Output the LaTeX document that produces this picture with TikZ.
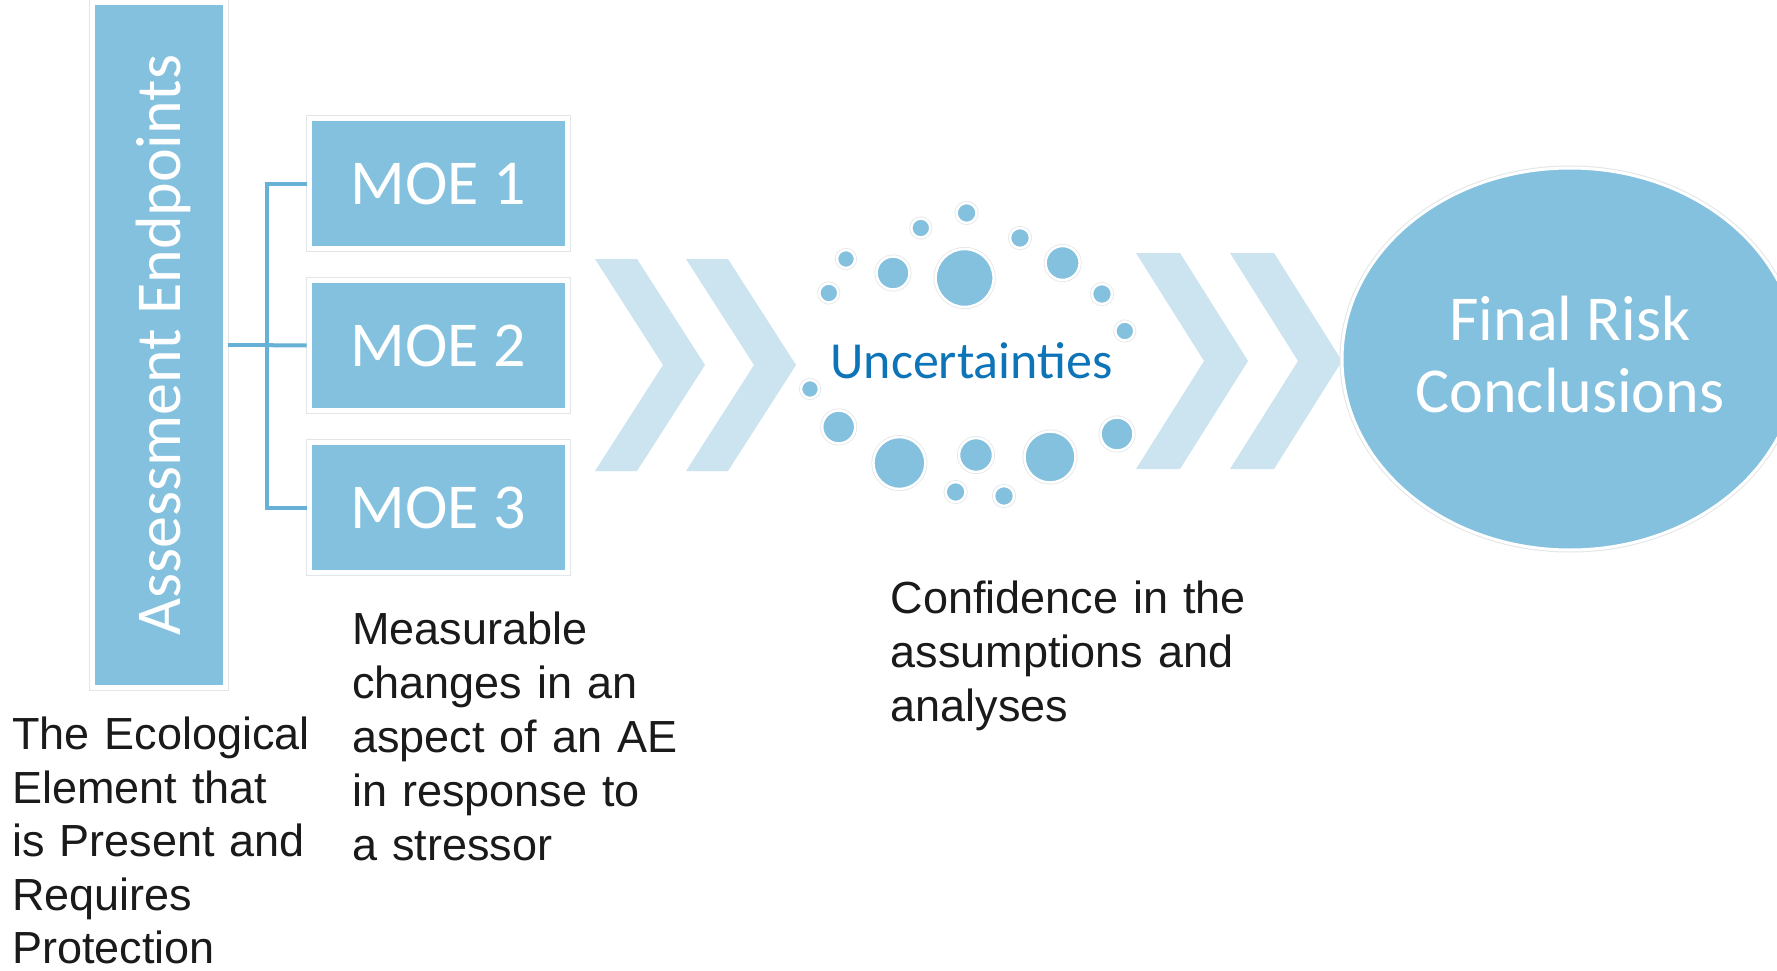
\documentclass[tikz,border=0pt]{standalone}
\usepackage{fontspec}
\setmainfont{Liberation Sans}
\newfontfamily\calib{Carlito}
\usetikzlibrary{shapes.geometric}

\definecolor{boxblue}{RGB}{132,193,222}
\definecolor{lineblue}{RGB}{104,177,214}
\definecolor{chevblue}{RGB}{203,228,240}
\definecolor{uncblue}{RGB}{14,116,184}
\definecolor{edgegray}{RGB}{226,230,232}
\definecolor{ink}{RGB}{26,26,26}

\tikzset{
  framed/.style={fill=boxblue, draw=white, line width=5pt,
    preaction={draw=edgegray, line width=7pt}},
  aebox/.style={framed, rectangle, inner sep=0pt,
    minimum width=133pt, minimum height=684.6pt},
  moebox/.style={framed, rectangle, inner sep=0pt,
    minimum width=258.3pt, minimum height=130pt},
  moelabel/.style={text=white, inner sep=0pt, anchor=base,
    font=\calib\fontsize{64}{70}\selectfont},
  finalnode/.style={ellipse, fill=boxblue, draw=white, line width=3pt,
    preaction={draw=edgegray, line width=5pt}, inner sep=0pt,
    minimum width=456pt, minimum height=382pt},
  finallabel/.style={text=white, align=center, inner sep=0pt,
    font=\calib\fontsize{64}{72}\selectfont},
  link/.style={draw=lineblue, line width=4pt},
  chevron/.style={fill=chevblue},
  dot/.style={fill=boxblue, draw=white, line width=2.5pt,
    preaction={draw=edgegray, line width=4pt}},
  note/.style={text=ink, inner sep=0pt, anchor=base west, align=left,
    text width=440pt, font=\fontsize{45}{54}\selectfont},
}

\begin{document}
\begin{tikzpicture}[x=1pt, y=-1pt]
\useasboundingbox[fill=white] (0,0) rectangle (1777,971);

% chevrons: left edge, band width, top, bottom
\foreach \L/\w/\t/\b in {595/42/259/471, 686/42/259/471, 1136/44/253/469, 1230/44/253/469}{
  \pgfmathsetmacro{\m}{(\t+\b)/2}
  \fill[chevron] (\L,\t) -- (\L+\w,\t) -- (\L+\w+68,\m) -- (\L+\w,\b)
     -- (\L,\b) -- (\L+68,\m) -- cycle;
}

% assessment endpoints and measures of effect
\node[aebox] (ae) at (159,345.2) {};
\node[text=white, inner sep=0pt, anchor=base, rotate=90,
      font=\calib\fontsize{64}{70}\selectfont] (aelabel) at (180,345.2) {Assessment Endpoints};

\node[moebox] (moe1) at (438.3,183.5) {};
\node[moebox] (moe2) at (438.3,345.5) {};
\node[moebox] (moe3) at (438.3,507.5) {};
\node[moelabel] (moe1t) at (438.3,204) {MOE 1};
\node[moelabel] (moe2t) at (438.3,366) {MOE 2};
\node[moelabel] (moe3t) at (438.3,528) {MOE 3};

% bracket joining the endpoints to each measure
\coordinate (trunk) at (266.7,345.2);
\draw[link] (ae.east) -- (trunk);
\draw[link] (moe1.west) -- (trunk |- moe1.west) -- (trunk |- moe3.west) -- (moe3.west);
\draw[link] (trunk) -- (moe2.west);

% cloud of uncertainty dots
\foreach \x/\y/\r in {966.6/213/10, 920.8/228/9.5, 1020/238/10, 846/259/9,
    893/273/16.5, 964.6/278/29, 1062.6/263/17, 828.8/293/9.5, 1102/294/10,
    1124.8/331/9.5, 810/389/9, 838.7/427/16.5, 899.4/463/26, 976/455/17,
    1050/457/25.5, 1117/434/16.5, 955.6/492/10, 1004/496/10}{
  \path[dot] (\x,\y) circle[radius=\r];
}
\node[text=uncblue, inner sep=0pt, anchor=base,
      font=\calib\fontsize{52}{60}\selectfont] (unc) at (971.5,378) {Uncertainties};

% final conclusions
\node[finalnode] (final) at (1570,359) {};
\node[finallabel] (finalt) at (1570,355) {Final Risk\\Conclusions};

% explanatory notes
\node[note, font=\fontsize{45}{53.5}\selectfont] (aenote) at (12,749.5) {The Ecological\\Element that\\is Present and\\Requires\\Protection};
\node[note] (moenote) at (352,644) {Measurable\\changes in an\\aspect of an AE\\in response to\\a stressor};
\node[note] (uncnote) at (890.5,613) {Confidence in the\\assumptions and\\analyses};
\end{tikzpicture}
\end{document}
